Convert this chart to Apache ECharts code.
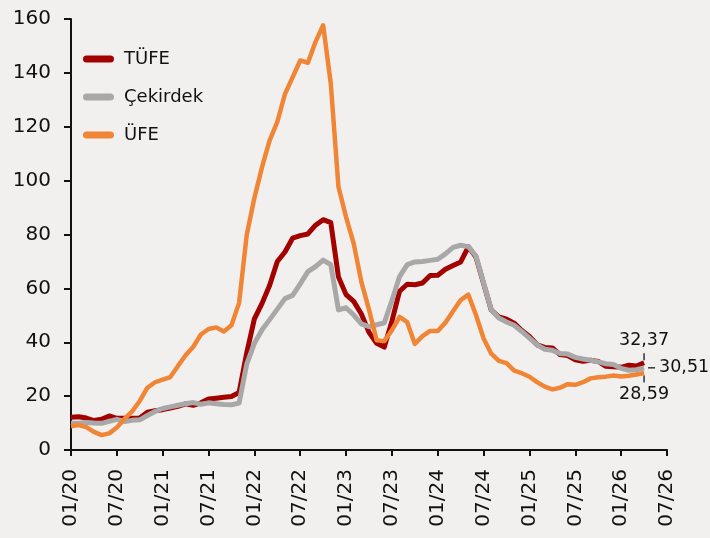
<!DOCTYPE html>
<html>
<head>
<meta charset="utf-8">
<script src="https://cdn.jsdelivr.net/npm/echarts@6/dist/echarts.min.js"></script>
<style>
  html, body { margin: 0; padding: 0; background: #f2f0ee; }
  #chart { width: 710px; height: 538px; }
</style>
</head>
<body>
<div id="chart"></div>
<script>
// x ekseni: 01/20 - 07/26 aylık
var months = []
for (var y = 20; y <= 26; y++) {
  for (var m = 1; m <= 12; m++) {
    if (y === 26 && m > 7) break
    months.push((m < 10 ? '0' : '') + m + '/' + y)
  }
}

var yTicks = [0, 20, 40, 60, 80, 100, 120, 140, 160]

// TÜFE yıllık % (01/20 - 04/26)
var tufe = [
  12.15, 12.37, 11.86, 10.94, 11.39, 12.62, 11.76, 11.77, 11.75, 11.89, 14.03, 14.60,
  14.97, 15.61, 16.19, 17.14, 16.59, 17.53, 18.95, 19.25, 19.58, 19.89, 21.31, 36.08,
  48.69, 54.44, 61.14, 69.97, 73.50, 78.62, 79.60, 80.21, 83.45, 85.51, 84.39, 64.27,
  57.68, 55.18, 50.51, 43.68, 39.59, 38.21, 47.83, 58.94, 61.53, 61.36, 61.98, 64.77,
  64.86, 67.07, 68.50, 69.80, 75.45, 71.60, 61.78, 51.97, 49.38, 48.58, 47.09, 44.38,
  42.12, 39.05, 38.10, 37.86, 35.41, 35.05, 33.52, 32.95, 33.29, 32.87, 31.07, 30.89,
  30.70, 31.50, 31.20, 32.37
]

// Çekirdek (C) yıllık %
var cekirdek = [
  9.9, 9.9, 10.2, 10.0, 9.9, 10.6, 11.4, 10.6, 11.0, 11.2, 12.8, 14.3,
  15.4, 16.0, 16.6, 17.2, 17.6, 17.0, 17.5, 17.2, 16.9, 16.8, 17.4, 31.9,
  39.6, 44.6, 48.4, 52.3, 56.2, 57.4, 61.7, 66.2, 68.1, 70.5, 68.8, 52.0,
  52.8, 50.1, 46.8, 45.8, 46.5, 47.2, 55.5, 64.4, 68.8, 69.8, 70.0, 70.4,
  70.8, 72.8, 75.2, 76.0, 75.5, 72.0, 62.0, 52.0, 49.0, 47.5, 46.3, 44.0,
  41.5, 39.0, 37.4, 37.0, 35.8, 35.6, 34.4, 33.8, 33.3, 32.7, 32.0, 31.7,
  30.3, 29.6, 29.8, 30.51
]

// ÜFE yıllık %
var ufe = [
  8.84, 9.26, 8.50, 6.71, 5.53, 6.17, 8.33, 11.53, 14.33, 18.20, 23.11, 25.15,
  26.16, 27.09, 31.20, 35.17, 38.33, 42.89, 44.92, 45.52, 43.96, 46.31, 54.62, 79.89,
  93.53, 105.01, 114.97, 121.82, 132.16, 138.31, 144.61, 143.75, 151.50, 157.69, 136.02, 97.72,
  86.46, 76.61, 62.43, 52.11, 40.76, 40.42, 44.50, 49.41, 47.44, 39.39, 42.25, 44.22,
  44.20, 47.29, 51.47, 55.66, 57.68, 50.09, 41.37, 35.75, 33.09, 32.24, 29.47, 28.52,
  27.20, 25.21, 23.50, 22.50, 23.13, 24.45, 24.19, 25.16, 26.59, 27.00, 27.23, 27.67,
  27.30, 27.60, 28.00, 28.59
]

var FONT = 'DejaVu Sans'

function fmt(v) {
  return String(v.toFixed(2)).replace('.', ',')
}

// son değer etiketi + küçük çizgi
function endMark(arr, pos, size, offset, dist) {
  var last = arr.length - 1
  return {
    silent: true,
    animation: false,
    symbol: 'rect',
    symbolSize: size,
    symbolOffset: offset,
    itemStyle: { color: '#333' },
    label: {
      show: true,
      position: pos,
      distance: dist,
      formatter: fmt(arr[last]),
      color: '#111',
      fontFamily: FONT,
      fontSize: 17.5
    },
    data: [{ coord: [months[last], arr[last]] }]
  }
}

function lineSeries(name, data, color, width, mark) {
  return {
    name: name,
    type: 'line',
    data: data,
    showSymbol: false,
    symbol: 'none',
    animation: false,
    lineStyle: { color: color, width: width, join: 'round' },
    itemStyle: { color: color },
    markPoint: mark
  }
}

var chart = echarts.init(document.getElementById('chart'))
chart.setOption({
  backgroundColor: '#f2f0ee',
  grid: { left: 71, right: 43, top: 19, bottom: 88 },
  legend: {
    orient: 'vertical',
    left: 83,
    top: 49,
    padding: 0,
    itemWidth: 31,
    itemHeight: 7,
    itemGap: 18,
    icon: 'path://M3.5,0 L27.5,0 A3.5,3.5 0 0 1 27.5,7 L3.5,7 A3.5,3.5 0 0 1 3.5,0 Z',
    textStyle: { fontFamily: FONT, fontSize: 18, color: '#111', lineHeight: 20, padding: [0, 0, 0, 5] },
    data: ['TÜFE', 'Çekirdek', 'ÜFE']
  },
  xAxis: {
    type: 'category',
    boundaryGap: false,
    data: months,
    axisLine: { lineStyle: { color: '#111', width: 2 } },
    axisTick: { interval: 5, length: 6, lineStyle: { color: '#111', width: 2 } },
    axisLabel: { interval: 5, rotate: 90, margin: 19, color: '#111', fontFamily: FONT, fontSize: 20 },
    splitLine: { show: false }
  },
  yAxis: {
    type: 'value',
    min: yTicks[0],
    max: yTicks[yTicks.length - 1],
    interval: 20,
    axisLine: { show: true, lineStyle: { color: '#111', width: 2 } },
    axisTick: { show: true, length: 7, lineStyle: { color: '#111', width: 2 } },
    axisLabel: { margin: 20, color: '#111', fontFamily: FONT, fontSize: 20 },
    splitLine: { show: false }
  },
  series: [
    lineSeries('TÜFE', tufe, '#a30000', 5, endMark(tufe, 'top', [1.5, 7], [0, -6], 4)),
    lineSeries('Çekirdek', cekirdek, '#a8a8a8', 5, endMark(cekirdek, 'right', [7, 1.5], [7.5, 0], 4)),
    lineSeries('ÜFE', ufe, '#f08536', 4.5, endMark(ufe, 'bottom', [1.5, 7], [0, 6], 3))
  ]
})
</script>
</body>
</html>
